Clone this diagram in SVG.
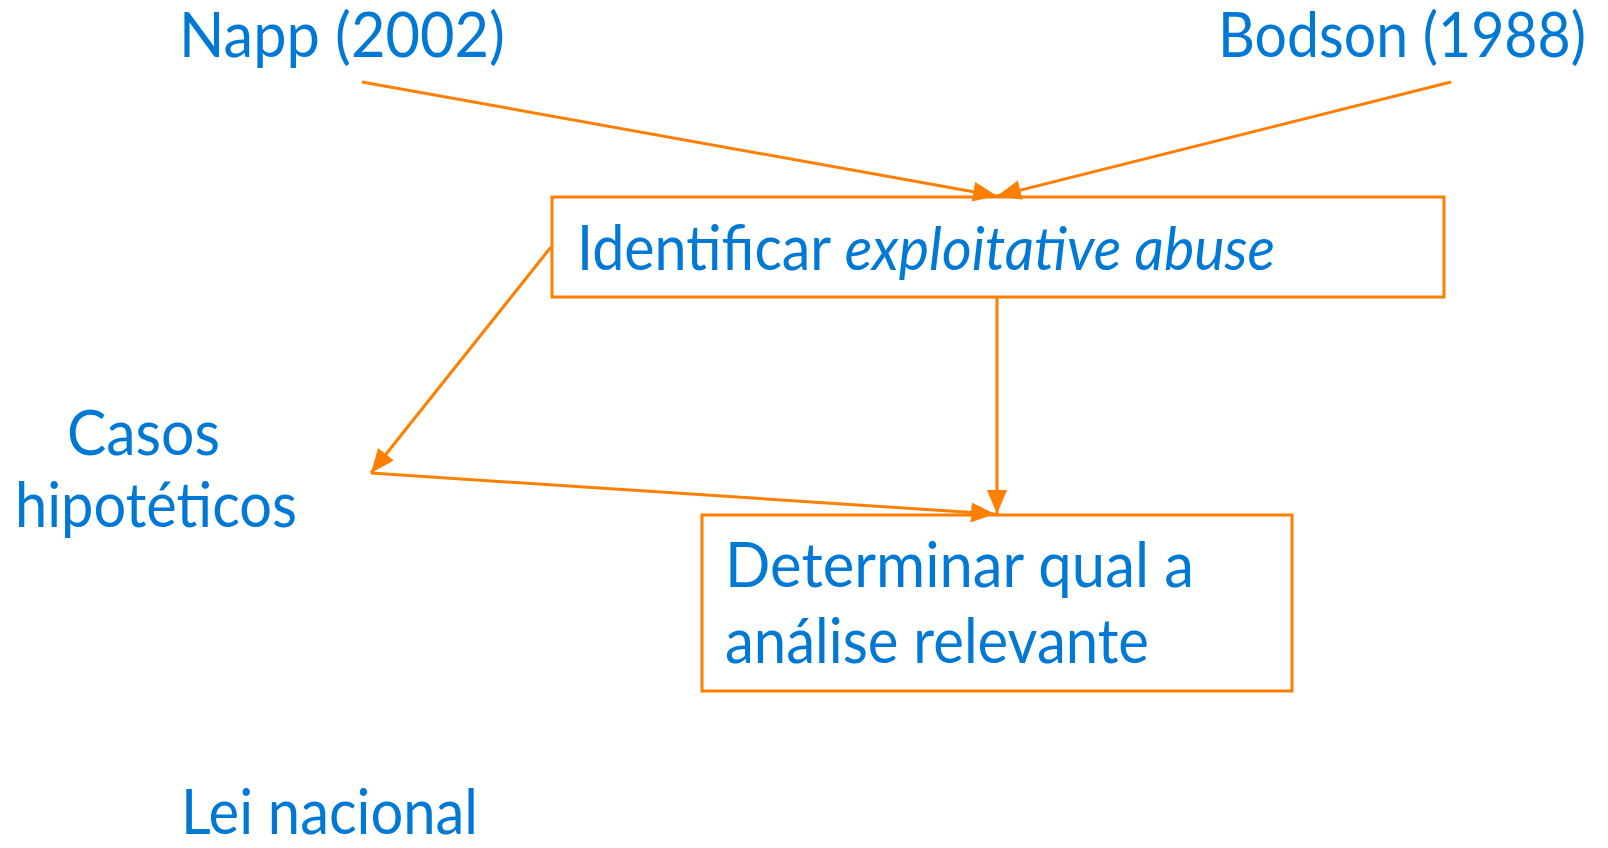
<svg xmlns="http://www.w3.org/2000/svg" width="1608" height="848" viewBox="0 0 1608 848">
<style>
.t{font-family:Lato,"Open Sans","Liberation Sans",sans-serif;font-size:61px;fill:#0079d6}
.box{fill:#fff;stroke:#ff7f00;stroke-width:3}
.c{fill:none;stroke:#ff7f00;stroke-width:3}
</style>
<defs>
<marker id="ah" markerUnits="userSpaceOnUse" markerWidth="30" markerHeight="24" refX="24" refY="10" orient="auto">
<path d="M0,0 L24,10 L0,20 Z" fill="#ff7f00"/>
</marker>
</defs>
<rect width="1608" height="848" fill="#fff"/>
<g id="n-napp"><text class="t" x="179" y="57" textLength="326" lengthAdjust="spacingAndGlyphs">Napp (2002)</text></g>
<g id="n-bodson"><text class="t" x="1218" y="57" font-size="57" textLength="368" lengthAdjust="spacingAndGlyphs">Bodson (1988)</text></g>
<g id="n-identificar">
<rect class="box" x="552" y="197" width="892" height="100"/>
<text class="t" x="577" y="270" textLength="698" lengthAdjust="spacingAndGlyphs">Identificar <tspan font-style="italic">exploitative abuse</tspan></text>
</g>
<g id="n-casos">
<text class="t" x="67" y="455" textLength="153" lengthAdjust="spacingAndGlyphs">Casos</text>
<text class="t" x="15" y="527" textLength="282" lengthAdjust="spacingAndGlyphs">hipotéticos</text>
</g>
<g id="n-determinar">
<rect class="box" x="702" y="515" width="590" height="176"/>
<text class="t" x="725" y="587" textLength="469" lengthAdjust="spacingAndGlyphs">Determinar qual a</text>
<text class="t" x="725" y="663" textLength="424" lengthAdjust="spacingAndGlyphs">análise relevante</text>
</g>
<g id="n-lei"><text class="t" x="181" y="834" font-size="58" textLength="297" lengthAdjust="spacingAndGlyphs">Lei nacional</text></g>
<g id="connectors">
<line class="c" x1="362" y1="82" x2="997" y2="196" marker-end="url(#ah)"/>
<line class="c" x1="1451" y1="82" x2="997" y2="196" marker-end="url(#ah)"/>
<line class="c" x1="551" y1="247" x2="371" y2="473" marker-end="url(#ah)"/>
<line class="c" x1="371" y1="473" x2="995" y2="514" marker-end="url(#ah)"/>
<line class="c" x1="997" y1="297" x2="997" y2="514" marker-end="url(#ah)"/>
</g>
</svg>
